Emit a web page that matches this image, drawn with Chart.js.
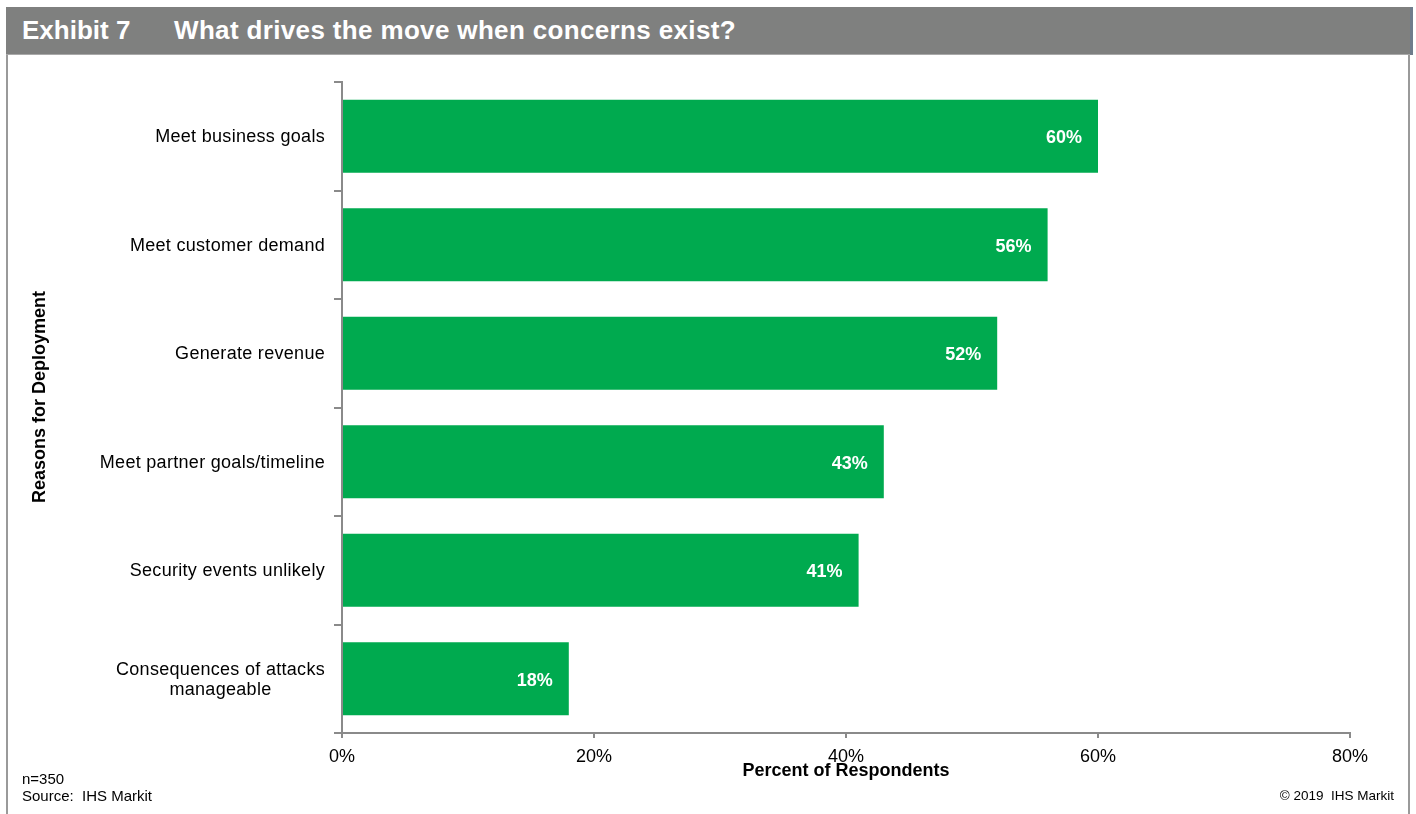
<!DOCTYPE html>
<html>
<head>
<meta charset="utf-8">
<script src="https://cdn.jsdelivr.net/npm/chart.js@4/dist/chart.umd.min.js"></script>
<style>
    body { margin: 0; background: #fff; font-family: "Liberation Sans", Arial, sans-serif; }
    #wrap { position: relative; width: 1416px; height: 814px; overflow: hidden; }
    #chart { position: absolute; left: 0; top: 0; }
    .header { position: absolute; left: 6px; top: 7px; width: 1404px; height: 48px; background: #7f807f; border-bottom: 1px solid #a9a9a9; box-sizing: border-box; }
    .header span { position: absolute; top: 8px; color: #fff; font-weight: bold; font-size: 26px; }
    .header_edge { position: absolute; left: 1410px; top: 7px; width: 3px; height: 48px; background: #6f7c8c; }
    .frame_left { position: absolute; left: 6px; top: 55px; width: 2px; height: 760px; background: #9a9a9a; }
    .frame_right { position: absolute; left: 1408px; top: 55px; width: 2px; height: 760px; background: #9a9a9a; }
    .note { position: absolute; font-size: 15px; color: #000; }
</style>
</head>
<body>
<div id="wrap">
    <canvas id="chart" width="1416" height="814"></canvas>
    <div class="header">
        <span style="left: 16px;">Exhibit 7</span>
        <span style="left: 168px; letter-spacing: 0.35px;">What drives the move when concerns exist?</span>
    </div>
    <div class="header_edge"></div>
    <div class="frame_left"></div>
    <div class="frame_right"></div>
    <div class="note" style="left: 22px; top: 770px;">n=350</div>
    <div class="note" style="left: 22px; top: 787px;">Source:&nbsp; IHS Markit</div>
    <div class="note" style="right: 22px; top: 788px; font-size: 13.5px;">&copy; 2019&nbsp; IHS Markit</div>
</div>

<script>
const categories = [
    "Meet business goals",
    "Meet customer demand",
    "Generate revenue",
    "Meet partner goals/timeline",
    "Security events unlikely",
    "Consequences of attacks\nmanageable"
];
const respondents = [60, 56, 52, 43, 41, 18];
const xTicks = [0, 20, 40, 60, 80];

const fontFamily = '"Liberation Sans", Arial, sans-serif';
const axisGray = '#8a8a8a';

// category names drawn as centred blocks, right edge just left of the axis,
// plus the rotated y-axis title
const categoryLabels = {
    id: 'categoryLabels',
    afterDraw(chart) {
        const { ctx } = chart;
        const yScale = chart.scales.y;
        ctx.save();
        ctx.font = `18px ${fontFamily}`;
        ctx.letterSpacing = '0.3px';
        ctx.fillStyle = '#000';
        ctx.textAlign = 'center';
        ctx.textBaseline = 'middle';
        categories.forEach((label, i) => {
            const lines = label.split('\n');
            const w = Math.max(...lines.map(l => ctx.measureText(l).width));
            const cx = chart.chartArea.left - 17 - w / 2;
            const cy = yScale.getPixelForValue(i) + 1;
            lines.forEach((l, j) => {
                ctx.fillText(l, cx, cy + (j - (lines.length - 1) / 2) * 20);
            });
        });

        ctx.letterSpacing = '0px';
        ctx.font = `bold 18px ${fontFamily}`;
        ctx.translate(40, 397);
        ctx.rotate(-Math.PI / 2);
        ctx.fillText('Reasons for Deployment', 0, 0);
        ctx.restore();
    }
};

// white value labels inside the end of each bar
const valueLabels = {
    id: 'valueLabels',
    afterDatasetsDraw(chart) {
        const { ctx } = chart;
        const bars = chart.getDatasetMeta(0).data;
        ctx.save();
        ctx.font = `bold 18px ${fontFamily}`;
        ctx.fillStyle = '#fff';
        ctx.textAlign = 'right';
        ctx.textBaseline = 'middle';
        bars.forEach((bar, i) => {
            ctx.fillText(respondents[i] + '%', bar.x - 16, bar.y + 2);
        });
        ctx.restore();
    }
};

new Chart(document.getElementById('chart'), {
    type: 'bar',
    data: {
        labels: categories,
        datasets: [{
            data: respondents,
            backgroundColor: '#00aa4f',
            borderWidth: 0,
            categoryPercentage: 1,
            barPercentage: 0.675
        }]
    },
    options: {
        indexAxis: 'y',
        responsive: false,
        animation: false,
        layout: { padding: { left: 0, top: 82, right: 66, bottom: 0 } },
        plugins: {
            legend: { display: false },
            tooltip: { enabled: false }
        },
        scales: {
            x: {
                min: 0,
                max: 80,
                afterBuildTicks: (scale) => {
                    scale.ticks = xTicks.map(v => ({ value: v }));
                },
                afterFit: (scale) => { scale.height = 81; },
                border: { color: axisGray, width: 2 },
                grid: { drawOnChartArea: false, color: axisGray, lineWidth: 2, tickLength: 5 },
                ticks: {
                    color: '#000',
                    font: { family: fontFamily, size: 18 },
                    padding: 8,
                    callback: (v) => v + '%'
                },
                title: {
                    display: true,
                    text: 'Percent of Respondents',
                    color: '#000',
                    font: { family: fontFamily, size: 18, weight: 'bold' },
                    padding: { top: 0, bottom: 32 }
                }
            },
            y: {
                afterFit: (scale) => { scale.width = 342; },
                border: { color: axisGray, width: 2 },
                grid: { drawOnChartArea: false, color: axisGray, lineWidth: 2, tickLength: 8 },
                ticks: { display: false }
            }
        }
    },
    plugins: [categoryLabels, valueLabels]
});
</script>
</body>
</html>
